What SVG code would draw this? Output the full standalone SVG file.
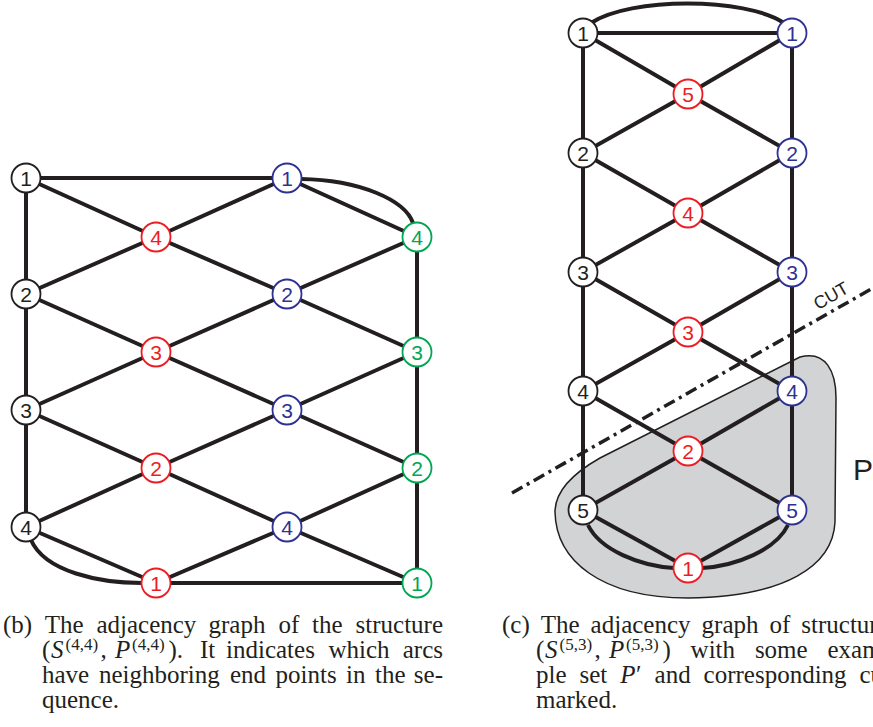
<svg xmlns="http://www.w3.org/2000/svg" width="873" height="727" viewBox="0 0 873 727">
<style>
.e{fill:none;stroke:#231f20;stroke-width:4}
.n circle{fill:#fff;stroke-width:1.8}
.n text{font-family:'Liberation Sans',Arial,sans-serif;font-size:21px;text-anchor:middle}
.k circle{stroke:#231f20}.k text{fill:#231f20}
.r circle{stroke:#ed1c24}.r text{fill:#ed1c24}
.b circle{stroke:#2e3192}.b text{fill:#2e3192}
.g circle{stroke:#00a651}.g text{fill:#00a651}
.cap{font-family:'Liberation Serif','Times New Roman',serif;font-size:25px;fill:#231f20}
.it{font-style:italic}
.sup{font-size:17px}
.lbl{font-family:'Liberation Sans',Arial,sans-serif;fill:#231f20}
</style>
<rect width="873" height="727" fill="#fff"/>

<path id="region-P" d="M800 357 C826 350 836 372 836 398 L835 522 C833 566 785 597 688 598 C600 598 556 560 555 512 C555 492 570 475 600 458 Z" fill="#d1d3d4" stroke="#231f20" stroke-width="1.5"/>

<g id="connectors">
<path class="e" d="M26 178 H287 M26 178 V527 M417 237 V583 M156 583 H417
M26 178 L156 237 L287 294 L417 352
M26 294 L156 352 L287 410 L417 468
M26 410 L156 468 L287 527 L417 583
M26 527 L156 583
M287 178 L417 237
M26 294 L156 237 L287 178
M26 410 L156 352 L287 294 L417 237
M26 527 L156 468 L287 410 L417 352
M156 583 L287 527 L417 468
M301 179 C360 180 405 200 413 223
M31 540 C45 572 100 583 142 583"/>
<path class="e" d="M583 33 H792 M583 33 V510 M792 33 V510
M583 33 L688 94 L792 153 L688 213 L583 272 L688 332 L792 391 L688 451 L583 510 L688 568
M792 33 L688 94 L583 153 L688 213 L792 272 L688 332 L583 391 L688 451 L792 510 L688 568
M591 23 C630 -3 745 -3 784 23
M588 525 C600 550 640 566 674 568
M788 525 C776 550 736 566 702 568"/>
</g>

<g id="cut">
<line x1="512" y1="493" x2="873" y2="288" stroke="#231f20" stroke-width="3.5" stroke-dasharray="12 5 3 5"/>
<text class="lbl" font-size="18" text-anchor="middle" transform="translate(834,301) rotate(-29.6)">CUT</text>
</g>
<text id="label-P" class="lbl" x="853" y="480" font-size="30">P′</text>

<g id="L-k1" class="n k" transform="translate(26,178)"><circle r="14.5"/><text y="7.5">1</text></g>
<g id="L-k2" class="n k" transform="translate(26,294)"><circle r="14.5"/><text y="7.5">2</text></g>
<g id="L-k3" class="n k" transform="translate(26,410)"><circle r="14.5"/><text y="7.5">3</text></g>
<g id="L-k4" class="n k" transform="translate(26,527)"><circle r="14.5"/><text y="7.5">4</text></g>
<g id="L-r4" class="n r" transform="translate(156,237)"><circle r="14.5"/><text y="7.5">4</text></g>
<g id="L-r3" class="n r" transform="translate(156,352)"><circle r="14.5"/><text y="7.5">3</text></g>
<g id="L-r2" class="n r" transform="translate(156,468)"><circle r="14.5"/><text y="7.5">2</text></g>
<g id="L-r1" class="n r" transform="translate(156,583)"><circle r="14.5"/><text y="7.5">1</text></g>
<g id="L-b1" class="n b" transform="translate(287,178)"><circle r="14.5"/><text y="7.5">1</text></g>
<g id="L-b2" class="n b" transform="translate(287,294)"><circle r="14.5"/><text y="7.5">2</text></g>
<g id="L-b3" class="n b" transform="translate(287,410)"><circle r="14.5"/><text y="7.5">3</text></g>
<g id="L-b4" class="n b" transform="translate(287,527)"><circle r="14.5"/><text y="7.5">4</text></g>
<g id="L-g4" class="n g" transform="translate(417,237)"><circle r="14.5"/><text y="7.5">4</text></g>
<g id="L-g3" class="n g" transform="translate(417,352)"><circle r="14.5"/><text y="7.5">3</text></g>
<g id="L-g2" class="n g" transform="translate(417,468)"><circle r="14.5"/><text y="7.5">2</text></g>
<g id="L-g1" class="n g" transform="translate(417,583)"><circle r="14.5"/><text y="7.5">1</text></g>

<g id="R-k1" class="n k" transform="translate(583,33)"><circle r="14.5"/><text y="7.5">1</text></g>
<g id="R-k2" class="n k" transform="translate(583,153)"><circle r="14.5"/><text y="7.5">2</text></g>
<g id="R-k3" class="n k" transform="translate(583,272)"><circle r="14.5"/><text y="7.5">3</text></g>
<g id="R-k4" class="n k" transform="translate(583,391)"><circle r="14.5"/><text y="7.5">4</text></g>
<g id="R-k5" class="n k" transform="translate(583,510)"><circle r="14.5"/><text y="7.5">5</text></g>
<g id="R-b1" class="n b" transform="translate(792,33)"><circle r="14.5"/><text y="7.5">1</text></g>
<g id="R-b2" class="n b" transform="translate(792,153)"><circle r="14.5"/><text y="7.5">2</text></g>
<g id="R-b3" class="n b" transform="translate(792,272)"><circle r="14.5"/><text y="7.5">3</text></g>
<g id="R-b4" class="n b" transform="translate(792,391)"><circle r="14.5"/><text y="7.5">4</text></g>
<g id="R-b5" class="n b" transform="translate(792,510)"><circle r="14.5"/><text y="7.5">5</text></g>
<g id="R-r5" class="n r" transform="translate(688,94)"><circle r="14.5"/><text y="7.5">5</text></g>
<g id="R-r4" class="n r" transform="translate(688,213)"><circle r="14.5"/><text y="7.5">4</text></g>
<g id="R-r3" class="n r" transform="translate(688,332)"><circle r="14.5"/><text y="7.5">3</text></g>
<g id="R-r2" class="n r" transform="translate(688,451)"><circle r="14.5"/><text y="7.5">2</text></g>
<g id="R-r1" class="n r" transform="translate(688,568)"><circle r="14.5"/><text y="7.5">1</text></g>

<g id="caption-b" class="cap">
<text y="633"><tspan x="3">(b)</tspan><tspan x="44.8">The</tspan><tspan x="96.4">adjacency</tspan><tspan x="208.5">graph</tspan><tspan x="278.5">of</tspan><tspan x="312">the</tspan></text>
<text x="443" y="633" text-anchor="end">structure</text>
<text><tspan x="42" y="658">(</tspan><tspan x="51" y="658" class="it">S</tspan><tspan x="65.5" y="650" class="sup">(4,4)</tspan><tspan x="100.5" y="658">,</tspan><tspan x="115" y="658" class="it">P</tspan><tspan x="132" y="650" class="sup">(4,4)</tspan><tspan x="168.5" y="658">).</tspan><tspan x="200" y="658">It</tspan><tspan x="226" y="658">indicates</tspan><tspan x="328.5" y="658">which</tspan></text>
<text x="443" y="658" text-anchor="end">arcs</text>
<text y="683"><tspan x="42">have</tspan><tspan x="99">neighboring</tspan><tspan x="230">end</tspan><tspan x="275.5">points</tspan><tspan x="346">in</tspan><tspan x="375">the</tspan></text>
<text x="443" y="683" text-anchor="end">se-</text>
<text x="42" y="708">quence.</text>
</g>
<g id="caption-c" class="cap">
<text y="633"><tspan x="502">(c)</tspan><tspan x="540.8">The</tspan><tspan x="590.6">adjacency</tspan><tspan x="701.6">graph</tspan><tspan x="769.5">of</tspan><tspan x="801.3">structure</tspan></text>
<text><tspan x="536" y="658">(</tspan><tspan x="545" y="658" class="it">S</tspan><tspan x="559.5" y="650" class="sup">(5,3)</tspan><tspan x="594.5" y="658">,</tspan><tspan x="609" y="658" class="it">P</tspan><tspan x="626" y="650" class="sup">(5,3)</tspan><tspan x="662.5" y="658">)</tspan><tspan x="690.6" y="658">with</tspan><tspan x="754.9" y="658">some</tspan><tspan x="827.5" y="658">exam-</tspan></text>
<text y="683"><tspan x="536">ple</tspan><tspan x="579.5">set</tspan><tspan x="620.2" class="it">P</tspan><tspan x="636">′</tspan><tspan x="654.6">and</tspan><tspan x="703.6">corresponding</tspan><tspan x="859.5">cut</tspan></text>
<text x="536" y="708">marked.</text>
</g>
</svg>
